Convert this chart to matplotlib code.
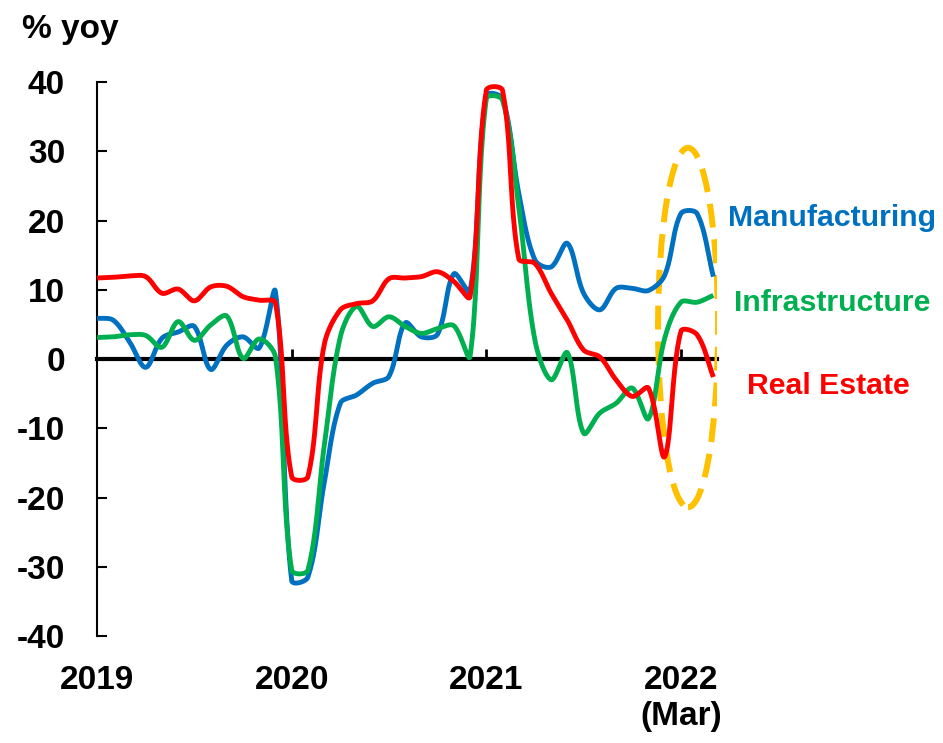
import numpy as np
import matplotlib
matplotlib.use('Agg')
import matplotlib.pyplot as plt
from matplotlib.patches import Ellipse

plt.rcParams['font.family'] = ['Liberation Sans', 'DejaVu Sans']
plt.rcParams['font.weight'] = 'bold'
plt.rcParams['axes.unicode_minus'] = False

# ---- data (monthly, Jan 2019 - Mar 2022) ----
months = [f'{y}-{m:02d}' for y in range(2019, 2023) for m in range(1, 13)][:39]

manufacturing = [5.9, 5.6, 2.5, -1.2, 3.0, 3.9, 4.7, -1.5, 2.0, 3.2, 1.6, 9.7,
                 -32.0, -31.5, -18.0, -6.4, -5.2, -3.5, -2.5, 5.2, 3.2, 3.6, 12.3, 9.8,
                 38.0, 37.6, 24.0, 14.3, 13.3, 16.7, 9.5, 7.1, 10.2, 10.2, 9.9, 12.1,
                 21.0, 21.0, 11.9]
infrastructure = [3.1, 3.2, 3.5, 3.4, 1.7, 5.4, 2.7, 4.9, 6.2, 0.1, 2.9, 0.3,
                  -30.5, -30.5, -12.7, 3.2, 7.6, 4.7, 6.1, 4.7, 3.7, 4.4, 4.8, 0.4,
                  37.6, 37.4, 22.0, 2.7, -3.0, 0.9, -10.7, -7.8, -6.4, -4.2, -8.6, 3.0,
                  8.2, 8.2, 9.2]
real_estate = [11.7, 11.8, 12.0, 11.9, 9.5, 10.1, 8.4, 10.4, 10.5, 9.0, 8.5, 8.1,
               -17.0, -17.0, 2.0, 7.1, 8.0, 8.4, 11.6, 11.7, 11.9, 12.6, 11.2, 9.0,
               38.8, 38.8, 14.5, 13.8, 9.5, 5.6, 1.3, 0.3, -3.0, -5.4, -4.2, -14.1,
               4.0, 3.5, -2.6]

series_names = ['Manufacturing', 'Infrastructure', 'Real Estate']
series_colors = ['#0070C0', '#00B050', '#FF0000']

year_ticks = [0, 12, 24, 36]
year_labels = ['2019', '2020', '2021', '2022\n(Mar)']
y_ticks = list(range(-40, 41, 10))

# ---- figure ----
fig = plt.figure(figsize=(9.43, 7.43), dpi=100)
ax = fig.add_axes([0.1029, 0.1440, 0.6570, 0.7456])
ax.set_xlim(0, 38.2)
ax.set_ylim(-40, 40)

x = np.arange(len(months))


def excel_smooth(xv, yv, n=24):
    pts = ax.transData.transform(np.column_stack([xv, yv]))
    P = np.vstack([pts[0], pts, pts[-1]])
    out = []
    nseg = len(pts) - 1
    for i in range(nseg):
        p0, p1, p2, p3 = P[i], P[i + 1], P[i + 2], P[i + 3]
        d01 = np.hypot(*(p1 - p0))
        d12 = np.hypot(*(p2 - p1))
        d23 = np.hypot(*(p3 - p2))
        f1 = d12 / (d01 + d12) / 3 if d01 + d12 > 0 else 0
        f2 = d12 / (d12 + d23) / 3 if d12 + d23 > 0 else 0
        c1 = p1 + (p2 - p0) * f1
        c2 = p2 - (p3 - p1) * f2
        t = np.linspace(0, 1, n, endpoint=(i == nseg - 1))[:, None]
        b = ((1 - t) ** 3) * p1 + 3 * ((1 - t) ** 2) * t * c1 + 3 * (1 - t) * t ** 2 * c2 + t ** 3 * p2
        out.append(b)
    out = np.vstack(out)
    d = ax.transData.inverted().transform(out)
    return d[:, 0], d[:, 1]


for vals, col in zip([manufacturing, infrastructure, real_estate], series_colors):
    sx, sy = excel_smooth(x, vals)
    ax.plot(sx, sy, color=col, lw=3.5, zorder=3, solid_joinstyle='round',
            solid_capstyle='butt')

# dashed ellipse highlight
ell = Ellipse((36.44, 4.55), width=3.7, height=51.9, fill=False,
              edgecolor='#FFC000', lw=4.3, linestyle=(0, (4, 2)), zorder=2.8)
ax.add_patch(ell)

# spines / axes
for s in ['top', 'right']:
    ax.spines[s].set_visible(False)
ax.spines['bottom'].set_position(('data', 0))
ax.spines['bottom'].set_linewidth(3)
ax.spines['bottom'].set_zorder(2.5)
ax.spines['left'].set_linewidth(1.5)

ax.set_xticks([12, 24, 36])
ax.tick_params(axis='x', direction='in', length=7, width=2, labelbottom=False)
ax.set_yticks(y_ticks, labels=[str(v) for v in y_ticks])
ax.tick_params(axis='y', direction='in', length=7, width=1.5, pad=23, labelsize=24)
for lab in ax.get_yticklabels():
    lab.set_fontweight('bold')

secax = ax.secondary_xaxis('bottom')
secax.set_xticks(year_ticks, labels=year_labels)
secax.tick_params(length=0, pad=21, labelsize=24)
secax.spines['bottom'].set_visible(False)
for lab in secax.get_xticklabels():
    lab.set_fontweight('bold')
    lab.set_multialignment('center')

# series labels
label_pos = [(38.9, 20.4), (39.3, 8.1), (40.1, -3.9)]
for name, col, (lx, ly) in zip(series_names, series_colors, label_pos):
    ax.text(lx, ly, name, color=col, fontsize=21.8, fontweight='bold',
            ha='left', va='center', clip_on=False)

fig.text(22 / 943, 1 - 38 / 743, '% yoy', fontsize=24, fontweight='bold',
         ha='left', va='baseline')

fig.savefig('out.png', dpi=100)
